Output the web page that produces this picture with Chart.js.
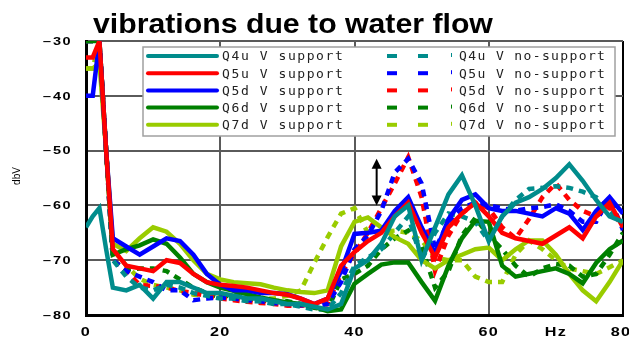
<!DOCTYPE html>
<html>
<head>
<meta charset="utf-8">
<script src="https://cdn.jsdelivr.net/npm/chart.js@4.4.0/dist/chart.umd.min.js"></script>
<style>
  html, body { margin: 0; padding: 0; background: #fff; }
</style>
</head>
<body>
<canvas id="vibChart" width="629" height="340"></canvas>
<script>
// frequency points (Hz)
const hz = [0, 1, 2, 3, 4, 6, 8, 10, 12, 14, 16, 18, 20, 22, 24, 26, 28, 30, 32, 34, 36, 38,
            40, 42, 44, 46, 48, 50, 52, 54, 56, 58, 60, 62, 64, 66, 68, 70, 72, 74, 76, 78, 80];

// with support (solid)
const q4uSupport = [-64, -62, -60.5, -68, -75, -75.5, -74.5, -77, -74, -74, -75, -76, -76, -76.5, -77, -77, -77.5, -78, -78, -78.5, -79, -78,
                    -71.5, -70, -67, -62, -60, -70, -64, -58, -54.5, -60, -66.5, -62, -59.5, -58.5, -57, -55, -52.5, -55.5, -59, -62, -63];
const q5uSupport = [-33, -33, -30, -50, -68, -71, -71.5, -72, -70, -70.5, -72.5, -74, -74.5, -74.7, -75, -75.5, -76, -76.3, -77, -78, -77, -71,
                    -68.5, -66.5, -65, -62, -59.5, -65, -69.5, -64, -61.5, -59.5, -62, -65, -66, -66.5, -67, -65.5, -64, -66, -62, -59.5, -64];
const q5dSupport = [-40, -40, -30, -50, -66, -67.5, -69, -67.5, -66, -66.5, -69, -72.5, -74.5, -75.5, -75.5, -76, -76, -76.2, -77, -78, -77, -72,
                    -65.2, -65, -64.6, -61, -58.5, -64, -68.8, -62.5, -59, -58, -60.5, -61, -61, -61.5, -62, -60.5, -61.5, -64.5, -61, -58.5, -61.5];
const q6dSupport = [-30, -30, -30, -50, -69, -68, -67.3, -66.2, -67, -69.5, -72.5, -74, -75, -75.6, -76.2, -76.8, -77.3, -77.7, -78, -78.5, -79.3, -79,
                    -74.3, -72.5, -70.8, -70.4, -70.4, -74, -77.4, -71, -66, -62.8, -63, -71, -73, -72.5, -72, -71.5, -72.5, -74.2, -70.5, -68, -66.4];
const q7dSupport = [-35, -35, -34, -50, -67, -68.3, -66, -64, -64.8, -67, -70, -72.5, -73.5, -74, -74.2, -74.4, -75, -75.5, -75.8, -76, -75.5, -67.5,
                    -63, -62.2, -64, -65.8, -67, -70, -71.5, -70, -69, -68, -67.7, -70, -68, -66.4, -66.4, -69, -72.5, -75.5, -77.5, -74, -70];

// without support (dashed)
const q4uNoSupport = [-30, -30, -30, -50, -70, -73, -75, -75.5, -74.5, -75, -76, -76.5, -77, -77, -77.5, -77.5, -78, -78, -78.5, -79, -79, -76,
                      -71, -69.5, -68, -65, -62, -70, -65, -61.5, -62, -63, -66.5, -62, -59, -57, -56.8, -56.5, -56.8, -57.5, -58.5, -61, -63];
const q5uNoSupport = [-30, -30, -30, -50, -70, -72, -73, -74, -75.5, -75.5, -77.3, -77, -76.8, -77, -77.3, -77.5, -77.8, -78, -78.2, -78.5, -78, -74,
                      -68, -65.5, -61, -54, -51.5, -56, -68, -63, -60.5, -59.5, -60, -60.5, -61, -60.5, -60.3, -59.8, -61, -63, -63, -58.5, -64.5];
const q5dNoSupport = [-30, -30, -30, -50, -70, -72, -74.5, -74.7, -75, -75.6, -76, -76.5, -77, -77.3, -77.6, -77.8, -78, -78.3, -78.3, -78.1, -78, -72.5,
                      -68.8, -65, -60.5, -56, -51.2, -58.5, -71.9, -65.5, -61.5, -59.5, -60.5, -64, -66, -62.5, -58.5, -56, -59, -61, -62, -60.3, -64];
const q6dNoSupport = [-30, -30, -30, -50, -70, -71.7, -71.5, -71.5, -72, -73.5, -75, -76, -76.8, -76.3, -77, -77.4, -77.4, -77.5, -78, -78.7, -79, -73.5,
                      -72.5, -71, -68, -66, -64.6, -67.5, -75, -72, -65.5, -62.3, -65.5, -68, -71, -73, -71.5, -70.7, -71, -73, -72.5, -69, -65];
const q7dNoSupport = [-35, -35, -30, -50, -68, -71, -73.4, -74.5, -75, -75.5, -76.3, -76.3, -76.1, -76.5, -76.8, -77, -77, -76.5, -75.5, -70.5, -65.8, -61.5,
                      -60.5, -65, -64.8, -64.6, -65, -66.4, -69.5, -70, -70, -73, -74, -74, -69, -66.4, -68, -70, -71.5, -72, -72.5, -71.3, -70];

const supportNames = ['Q4u V support', 'Q5u V support', 'Q5d V support', 'Q6d V support', 'Q7d V support'];
const noSupportNames = ['Q4u V no-support', 'Q5u V no-support', 'Q5d V no-support', 'Q6d V no-support', 'Q7d V no-support'];

const yTicks = [-30, -40, -50, -60, -70, -80];
const xTickValues = [0, 20, 40, 60, 70, 80];
const xTickLabels = ['0', '20', '40', '60', 'Hz', '80'];

// arrow marker (Hz, dB)
const arrowHz = 43.3;
const arrowFrom = -51.5;
const arrowTo = -60;

const TEAL = '#008c8c', RED = '#ff0000', BLUE = '#0000ff', GREEN = '#008000', LIME = '#99cc00';
const supportColors = [TEAL, RED, BLUE, GREEN, LIME];
const noSupportColors = [TEAL, BLUE, RED, GREEN, LIME];

const supportData = [q4uSupport, q5uSupport, q5dSupport, q6dSupport, q7dSupport];
const noSupportData = [q4uNoSupport, q5uNoSupport, q5dNoSupport, q6dNoSupport, q7dNoSupport];

function toPoints(vals) {
  return vals.map((v, i) => ({ x: hz[i], y: v }));
}

const datasets = [];
supportData.forEach((vals, i) => {
  datasets.push({
    label: supportNames[i],
    data: toPoints(vals),
    borderColor: supportColors[i],
    borderWidth: 4.5,
    pointRadius: 0,
    tension: 0
  });
});
noSupportData.forEach((vals, i) => {
  datasets.push({
    label: noSupportNames[i],
    data: toPoints(vals),
    borderColor: noSupportColors[i],
    borderWidth: 4.5,
    borderDash: [7, 6],
    pointRadius: 0,
    tension: 0
  });
});

// draw text stretched horizontally
function wideText(ctx, text, x, y, sx, align) {
  const w = ctx.measureText(text).width * sx;
  let left = x;
  if (align === 'center') left = x - w / 2;
  if (align === 'right') left = x - w;
  ctx.save();
  ctx.translate(left, y);
  ctx.scale(sx, 1);
  ctx.textAlign = 'left';
  ctx.fillText(text, 0, 0);
  ctx.restore();
}

function monoText(ctx, text, x, y, pitch) {
  ctx.textAlign = 'center';
  for (let i = 0; i < text.length; i++) {
    ctx.fillText(text[i], x + i * pitch, y);
  }
}

const decorPlugin = {
  id: 'decor',
  afterDraw(chart) {
    const ctx = chart.ctx;
    const xs = chart.scales.x, ys = chart.scales.y;
    ctx.save();
    ctx.fillStyle = '#000';
    ctx.letterSpacing = '0px';

    // title
    ctx.font = 'bold 28px "Liberation Sans", Arial, sans-serif';
    ctx.textBaseline = 'alphabetic';
    wideText(ctx, 'vibrations due to water flow', 93, 33, 1.08, 'left');

    // y tick labels
    ctx.font = 'bold 10px "Liberation Sans", Arial, sans-serif';
    ctx.textBaseline = 'middle';
    ctx.letterSpacing = '1px';
    yTicks.forEach(v => {
      wideText(ctx, '\u2212' + Math.abs(v), 72, ys.getPixelForValue(v) + 1, 1.45, 'right');
    });

    // x tick labels
    ctx.font = 'bold 12px "Liberation Sans", Arial, sans-serif';
    xTickValues.forEach((v, i) => {
      wideText(ctx, xTickLabels[i], xs.getPixelForValue(v) - (v === 80 ? 2 : 0), 333, 1.35, 'center');
    });
    ctx.letterSpacing = '0px';

    // y axis unit
    ctx.save();
    ctx.translate(17, 176);
    ctx.rotate(-Math.PI / 2);
    ctx.font = '10px "Liberation Sans", Arial, sans-serif';
    ctx.textAlign = 'center';
    ctx.fillText('dbV', 0, 0);
    ctx.restore();

    // double arrow
    const ax = xs.getPixelForValue(arrowHz);
    const ay1 = ys.getPixelForValue(arrowFrom);
    const ay2 = ys.getPixelForValue(arrowTo);
    ctx.strokeStyle = '#000';
    ctx.lineWidth = 2;
    ctx.beginPath();
    ctx.moveTo(ax, ay1 + 6);
    ctx.lineTo(ax, ay2 - 6);
    ctx.stroke();
    ctx.beginPath();
    ctx.moveTo(ax, ay1); ctx.lineTo(ax - 5, ay1 + 10); ctx.lineTo(ax + 5, ay1 + 10); ctx.closePath();
    ctx.fill();
    ctx.beginPath();
    ctx.moveTo(ax, ay2); ctx.lineTo(ax - 5, ay2 - 10); ctx.lineTo(ax + 5, ay2 - 10); ctx.closePath();
    ctx.fill();

    // legend box
    const lx = 143, ly = 47, lw = 472, lh = 89;
    ctx.fillStyle = '#fff';
    ctx.fillRect(lx, ly, lw, lh);
    ctx.strokeStyle = '#a0a0a0';
    ctx.lineWidth = 1.5;
    ctx.strokeRect(lx, ly, lw, lh);

    ctx.font = '13px "DejaVu Sans Mono", monospace';
    ctx.textBaseline = 'middle';
    for (let i = 0; i < 5; i++) {
      const ry = 56 + i * 17.2;
      // solid sample
      ctx.strokeStyle = supportColors[i];
      ctx.lineWidth = 4;
      ctx.lineCap = 'round';
      ctx.beginPath();
      ctx.moveTo(148, ry);
      ctx.lineTo(217, ry);
      ctx.stroke();
      ctx.lineCap = 'butt';
      ctx.fillStyle = '#222';
      monoText(ctx, supportNames[i], 226, ry + 1, 9.4);

      // dashed sample
      ctx.fillStyle = noSupportColors[i];
      ctx.fillRect(387, ry - 2, 10, 4);
      ctx.fillRect(418, ry - 2, 10, 4);
      ctx.fillRect(451, ry - 3, 1, 4);
      ctx.fillStyle = '#222';
      monoText(ctx, noSupportNames[i], 463, ry + 1, 9.2);
    }
    ctx.restore();
  }
};

new Chart(document.getElementById('vibChart'), {
  type: 'line',
  data: { datasets: datasets },
  options: {
    responsive: false,
    animation: false,
    layout: { padding: { left: 86, right: 6, top: 41, bottom: 25 } },
    plugins: {
      legend: { display: false },
      title: { display: false },
      tooltip: { enabled: false }
    },
    scales: {
      x: {
        type: 'linear',
        min: 0,
        max: 80,
        ticks: { display: false, stepSize: 20 },
        grid: {
          drawTicks: false,
          lineWidth: 2,
          color: c => (c.tick && c.tick.value === 80) ? '#000' : '#5a5a5a'
        },
        border: { display: true, color: '#000', width: 3 }
      },
      y: {
        min: -80,
        max: -30,
        ticks: { display: false, stepSize: 10 },
        grid: { drawTicks: false, lineWidth: 2, color: '#5a5a5a' },
        border: { display: true, color: '#000', width: 3 }
      }
    }
  },
  plugins: [decorPlugin]
});
</script>
</body>
</html>
